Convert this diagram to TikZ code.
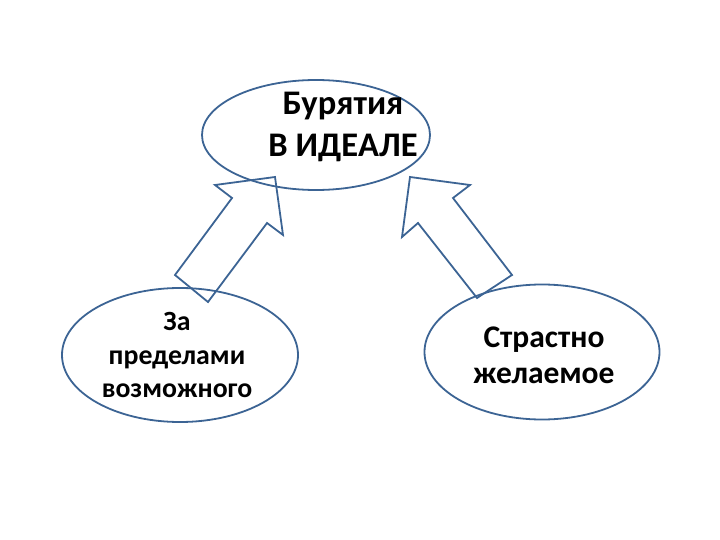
\documentclass[tikz,border=0pt]{standalone}
\usepackage{fontspec}
\setmainfont{Carlito}
\usetikzlibrary{shapes.geometric}
\definecolor{outline}{HTML}{3C6494}
\begin{document}
\begin{tikzpicture}[x=1pt, y=-1pt, line join=miter,
  bubble/.style={ellipse, draw=outline, line width=1.8pt, inner sep=0pt},
  blockarrow/.style={draw=outline, line width=1.8pt},
  every node/.style={align=center}]
\useasboundingbox (0,0) rectangle (720,540);
\node[bubble, minimum width=228pt, minimum height=110pt] (ideal) at (316,135) {};
\node[bubble, minimum width=236pt, minimum height=134pt] (beyond) at (180,355) {};
\node[bubble, minimum width=235pt, minimum height=135pt] (desired) at (542,352) {};
\node[inner sep=0pt, font=\fontsize{34.5}{42}\selectfont\bfseries] (idealtext) at (343,127) {Бурятия\\В ИДЕАЛЕ};
\node[inner sep=0pt, font=\fontsize{27.8}{33.5}\selectfont\bfseries] (beyondtext) at (177,355) {За\\пределами\\возможного};
\node[inner sep=0pt, font=\fontsize{31.5}{36}\selectfont\bfseries] (desiredtext) at (544,355) {Страстно\\желаемое};
\draw[blockarrow] (175,275) -- (232,198) -- (215,185) -- (275,177) -- (283,235) -- (267,223) -- (208,302) -- cycle;
\draw[blockarrow] (512,275) -- (453,198) -- (470,185) -- (410,177) -- (402,237) -- (418,223) -- (477,298) -- cycle;
\end{tikzpicture}
\end{document}
